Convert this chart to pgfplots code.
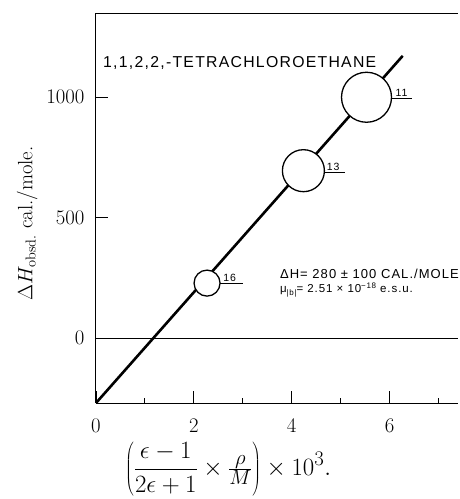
\documentclass[border=0pt]{standalone}
\usepackage{fontspec}
\usepackage{pgfplots}
\pgfplotsset{compat=1.18}
\newfontfamily\lettering[LetterSpace=8]{Liberation Sans}

\begin{document}
\begin{tikzpicture}
\path[use as bounding box] (-96pt,-96pt) rectangle (363pt,403pt);
\begin{axis}[
  at={(0,0)}, anchor=south west,
  scale only axis, width=362pt, height=390pt,
  xmin=0, xmax=7.4, ymin=-270, ymax=1350,
  clip=false,
  axis x line=bottom, axis y line=left,
  axis line style={-, line width=1pt},
  tick align=inside,
  xtick={0,2,4,6}, ytick={0,500,1000},
  minor xtick={1,3,5,7},
  major tick length=12pt, minor tick length=5pt,
  tick style={black, line width=0.9pt},
  /pgf/number format/1000 sep={},
  ticklabel style={font=\fontsize{20.74}{24}\selectfont},
  xticklabel style={yshift=-13pt},
  yticklabel style={xshift=-8pt},
  label style={font=\fontsize{24.88}{28}\selectfont},
  xlabel={$\displaystyle\left(\frac{\epsilon-1}{2\epsilon+1}\times\textstyle\frac{\rho}{M}\right)\times 10^3.$},
  xlabel style={at={(rel axis cs:0.365,0)}, anchor=north, yshift=-36pt},
  ylabel={$\Delta H_{\mathrm{obsd.}}$ cal./mole.},
  ylabel style={at={(rel axis cs:-0.19,0.46)}, anchor=center, font=\fontsize{20.74}{24}\selectfont},
]
% zero line
\addplot[black, line width=0.9pt] coordinates {(0,0) (7.4,0)};
% fitted line
\addplot[black, line width=2.6pt] coordinates {(0,-270) (6.27,1172)};
% data circles (size indicates weight)
\addplot[only marks, mark=*, mark size=13pt, mark options={fill=white, draw=black, line width=1.3pt}] coordinates {(2.27,228)};
\addplot[only marks, mark=*, mark size=21pt, mark options={fill=white, draw=black, line width=1.3pt}] coordinates {(4.24,695)};
\addplot[only marks, mark=*, mark size=25pt, mark options={fill=white, draw=black, line width=1.3pt}] coordinates {(5.53,1000)};
% labels of points
\draw[line width=1pt] ([xshift=13pt]axis cs:2.27,228) -- node[pos=0.42, above, inner sep=1.5pt, font=\lettering\fontsize{10.5}{12}\selectfont]{16} ++(23pt,0pt);
\draw[line width=1pt] ([xshift=21pt]axis cs:4.24,688) -- node[pos=0.42, above, inner sep=1.5pt, font=\lettering\fontsize{10.5}{12}\selectfont]{13} ++(21pt,0pt);
\draw[line width=1pt] ([xshift=25pt]axis cs:5.53,995) -- node[pos=0.5, above, inner sep=1.5pt, font=\lettering\fontsize{10.5}{12}\selectfont]{11} ++(20pt,0pt);
% top border
\draw[line width=1pt] (rel axis cs:0,1) -- (rel axis cs:1,1);
% texts
\node[anchor=west, inner sep=0pt, font=\lettering\fontsize{15.8}{18}\selectfont] at ([xshift=7pt]rel axis cs:0,0.872) {1,1,2,2,-TETRACHLOROETHANE};
\node[anchor=west, inner sep=0pt, font=\lettering\fontsize{13}{15}\selectfont] at (rel axis cs:0.508,0.33) {ΔH= 280 ± 100 CAL./MOLE};
\node[anchor=west, inner sep=0pt, font=\lettering\fontsize{11.5}{13}\selectfont] at (rel axis cs:0.508,0.29) {μ\raisebox{-0.5ex}{\fontsize{8}{9}\selectfont|b|}= 2.51 × 10\raisebox{0.6ex}{\fontsize{8}{9}\selectfont −18} e.s.u.};
\end{axis}
\end{tikzpicture}
\end{document}
